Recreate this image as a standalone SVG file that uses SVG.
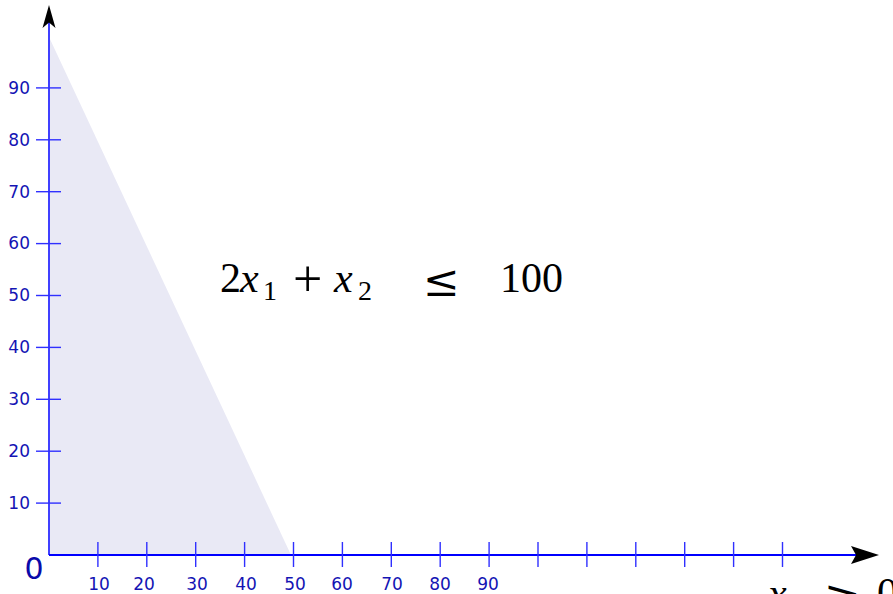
<svg xmlns="http://www.w3.org/2000/svg" width="893" height="594" viewBox="0 0 893 594">
<style>
.tick{stroke:#3030ff;stroke-width:1.4;fill:none}
.lab{font-family:"DejaVu Sans",sans-serif;font-size:17px;fill:#1414b4}
.ylab{text-anchor:end}
.xlab{text-anchor:middle}
.math{font-family:"Liberation Serif","DejaVu Serif",serif;font-size:42px;fill:#000}
.it{font-style:italic}
.sub{font-size:28px}
.plus{font-size:52px}
.op{font-family:"DejaVu Serif",serif;font-size:44px}
</style>
<rect width="893" height="594" fill="#fff"/>
<g id="region">
<polygon points="49,37 291,555 49,555" fill="#e9e9f5"/>
</g>
<g id="connectors">
<line x1="49" y1="555" x2="49" y2="22" stroke="#4040ff" stroke-width="2"/>
<line x1="49" y1="555" x2="858" y2="555" stroke="#0000ff" stroke-width="2"/>
<polygon points="49,5 55.5,28 49,22.5 42.5,28" fill="#000"/>
<polygon points="879,555 851,546 856,555 851,564" fill="#000"/>
</g>
<g id="yticks" class="tick">
<line x1="36" y1="503.1" x2="61" y2="503.1"/>
<line x1="36" y1="451.2" x2="61" y2="451.2"/>
<line x1="36" y1="399.3" x2="61" y2="399.3"/>
<line x1="36" y1="347.4" x2="61" y2="347.4"/>
<line x1="36" y1="295.5" x2="61" y2="295.5"/>
<line x1="36" y1="243.6" x2="61" y2="243.6"/>
<line x1="36" y1="191.7" x2="61" y2="191.7"/>
<line x1="36" y1="139.8" x2="61" y2="139.8"/>
<line x1="36" y1="87.9" x2="61" y2="87.9"/>
</g>
<g id="xticks" class="tick">
<line x1="97.9" y1="542" x2="97.9" y2="567"/>
<line x1="146.8" y1="542" x2="146.8" y2="567"/>
<line x1="195.7" y1="542" x2="195.7" y2="567"/>
<line x1="244.6" y1="542" x2="244.6" y2="567"/>
<line x1="293.5" y1="542" x2="293.5" y2="567"/>
<line x1="342.4" y1="542" x2="342.4" y2="567"/>
<line x1="391.3" y1="542" x2="391.3" y2="567"/>
<line x1="440.2" y1="542" x2="440.2" y2="567"/>
<line x1="489.1" y1="542" x2="489.1" y2="567"/>
<line x1="538" y1="542" x2="538" y2="567"/>
<line x1="586.9" y1="542" x2="586.9" y2="567"/>
<line x1="635.8" y1="542" x2="635.8" y2="567"/>
<line x1="684.7" y1="542" x2="684.7" y2="567"/>
<line x1="733.6" y1="542" x2="733.6" y2="567"/>
<line x1="782.5" y1="542" x2="782.5" y2="567"/>
</g>
<g id="ylabels" class="lab ylab">
<text x="30" y="509">10</text>
<text x="30" y="457">20</text>
<text x="30" y="405">30</text>
<text x="30" y="353">40</text>
<text x="30" y="301">50</text>
<text x="30" y="249">60</text>
<text x="30" y="198">70</text>
<text x="30" y="146">80</text>
<text x="30" y="94">90</text>
</g>
<g id="xlabels" class="lab xlab">
<text x="99" y="590">10</text>
<text x="144" y="590">20</text>
<text x="197" y="590">30</text>
<text x="246" y="590">40</text>
<text x="295" y="590">50</text>
<text x="342" y="590">60</text>
<text x="392" y="590">70</text>
<text x="440" y="590">80</text>
<text x="488" y="590">90</text>
</g>
<g id="origin">
<text x="34" y="579" text-anchor="middle" style="font-family:'DejaVu Sans',sans-serif;font-size:30px;fill:#0a0aaa">0</text>
</g>
<g id="constraint" class="math">
<text x="220" y="292">2</text>
<text x="240" y="292" class="it">x</text>
<text x="263" y="300" class="sub">1</text>
<text x="293" y="296" class="plus">+</text>
<text x="334" y="292" class="it">x</text>
<text x="358" y="300" class="sub">2</text>
<text x="423" y="296" class="op">≤</text>
<text x="500" y="292">100</text>
</g>
<g id="nonneg" class="math">
<text x="768" y="607" class="it">x</text>
<text x="790" y="615" class="sub">1</text>
<text x="824" y="611" class="op">≥</text>
<text x="877" y="607">0</text>
</g>
</svg>
